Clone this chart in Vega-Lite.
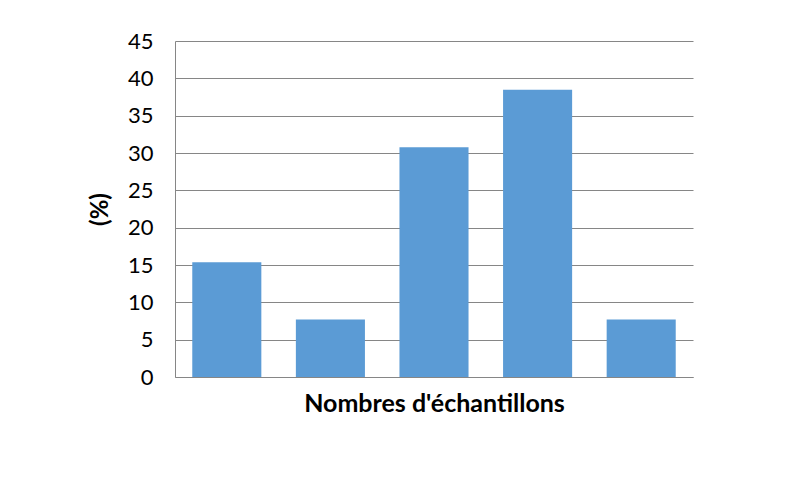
{
  "$schema": "https://vega.github.io/schema/vega-lite/v6.json",
  "autosize": "none",
  "width": 518,
  "height": 336,
  "padding": {"left": 175, "top": 41, "right": 118, "bottom": 114},
  "background": "white",
  "data": {
    "values": [
      {"classe": "1", "pourcentage": 15.38},
      {"classe": "2", "pourcentage": 7.69},
      {"classe": "3", "pourcentage": 30.77},
      {"classe": "4", "pourcentage": 38.46},
      {"classe": "5", "pourcentage": 7.69}
    ]
  },
  "mark": {"type": "bar", "color": "#5B9BD5"},
  "encoding": {
    "x": {
      "field": "classe",
      "type": "nominal",
      "sort": null,
      "scale": {"paddingInner": 0.3333, "paddingOuter": 0.1667},
      "axis": {
        "title": "Nombres d'échantillons",
        "labels": false,
        "ticks": false,
        "domainColor": "#868686",
        "domainWidth": 1,
        "titleFont": "Lato",
        "titleFontSize": 25,
        "titleFontWeight": "bold",
        "titleColor": "#000000",
        "titleY": 26,
        "titleBaseline": "middle"
      }
    },
    "y": {
      "field": "pourcentage",
      "type": "quantitative",
      "scale": {"domain": [0, 45]},
      "axis": {
        "title": "(%)",
        "values": [0, 5, 10, 15, 20, 25, 30, 35, 40, 45],
        "ticks": false,
        "grid": true,
        "gridColor": "#868686",
        "gridWidth": 1,
        "domainColor": "#868686",
        "domainWidth": 1,
        "labelFont": "Lato",
        "labelFontSize": 22,
        "labelColor": "#000000",
        "labelPadding": 22,
        "titleFont": "Lato",
        "titleFontSize": 24,
        "titleFontWeight": "bold",
        "titleColor": "#000000",
        "titleAngle": -90,
        "titleX": -75,
        "titleY": 168,
        "titleAlign": "center",
        "titleBaseline": "middle"
      }
    }
  },
  "config": {"view": {"stroke": null}}
}
